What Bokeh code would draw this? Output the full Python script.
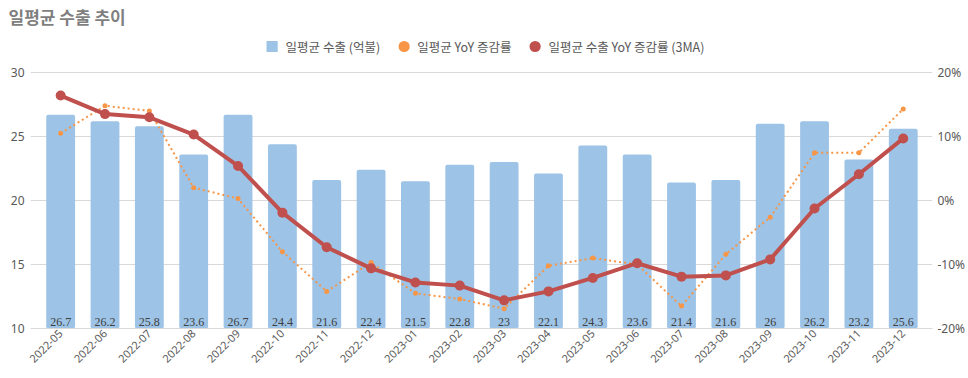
from math import pi
from bokeh.plotting import figure
from bokeh.models import (Range1d, LinearAxis, FixedTicker, Legend, LegendItem,
                          ColumnDataSource, Title)
from bokeh.embed import file_html
from bokeh.resources import INLINE

months = ["2022-05", "2022-06", "2022-07", "2022-08", "2022-09", "2022-10", "2022-11",
          "2022-12", "2023-01", "2023-02", "2023-03", "2023-04", "2023-05", "2023-06",
          "2023-07", "2023-08", "2023-09", "2023-10", "2023-11", "2023-12"]
export_avg = [26.7, 26.2, 25.8, 23.6, 26.7, 24.4, 21.6, 22.4, 21.5, 22.8,
              23.0, 22.1, 24.3, 23.6, 21.4, 21.6, 26.0, 26.2, 23.2, 25.6]
yoy = [10.5, 14.8, 14.0, 2.0, 0.3, -8.0, -14.2, -9.7, -14.5, -15.4,
       -16.9, -10.2, -9.0, -10.0, -16.5, -8.4, -2.6, 7.45, 7.45, 14.3]
yoy_3ma = [16.4, 13.5, 13.0, 10.3, 5.4, -1.9, -7.3, -10.6, -12.8, -13.3,
           -15.6, -14.2, -12.1, -9.8, -11.9, -11.7, -9.2, -1.25, 4.1, 9.7]
left_ticks = [10, 15, 20, 25, 30]
right_ticks = [-20, -10, 0, 10, 20]

FONT = "Noto Sans CJK KR"
NUMFONT = "Noto Sans"
GRAY = "#595959"
BLUE = "#9DC3E6"
ORANGE = "#F79646"
RED = "#C0504D"

# headroom above the top gridline (room for the legend inside the frame)
HEAD = 3.4375

xs = list(range(len(months)))
src = ColumnDataSource(dict(
    x=xs, v=export_avg, yoy=yoy, ma=yoy_3ma,
    lbl=[f"{v:g}" for v in export_avg],
))

p = figure(width=968, height=378, output_backend="svg", toolbar_location=None,
           x_range=Range1d(-0.68, 19.66),
           y_range=Range1d(10, 30 + HEAD),
           min_border_left=30, min_border_right=32, min_border_top=28, min_border_bottom=50)
p.extra_y_ranges = {"pct": Range1d(-20, 20 + 2 * HEAD)}
p.outline_line_color = None

bars = p.vbar(x="x", top="v", bottom=10, width=0.65, source=src,
              fill_color=BLUE, line_color=None, border_radius=2)
# legend-only square marker (hidden on the plot)
sq = p.scatter(x="x", y="v", source=src, marker="square", size=10,
               fill_color=BLUE, line_color=None, visible=False)
p.text(x="x", y=10, text="lbl", source=src, text_align="center",
       text_baseline="bottom", y_offset=-3, text_font=NUMFONT,
       text_font_size="12px", text_color="#404040")

p.line(x="x", y="yoy", source=src, y_range_name="pct", line_color=ORANGE,
       line_width=2, line_dash="2 3")
sc_o = p.scatter(x="x", y="yoy", source=src, y_range_name="pct", size=5,
                 fill_color=ORANGE, line_color=None)

p.line(x="x", y="ma", source=src, y_range_name="pct", line_color=RED, line_width=4)
sc_r = p.scatter(x="x", y="ma", source=src, y_range_name="pct", size=10,
                 fill_color=RED, line_color=None)

# axes
p.xaxis.ticker = FixedTicker(ticks=xs)
p.xaxis.major_label_overrides = {i: m for i, m in enumerate(months)}
p.xaxis.major_label_orientation = pi / 4
p.xaxis.axis_line_color = "#d9d9d9"
p.xaxis.major_tick_line_color = None
p.xaxis.minor_tick_line_color = None
p.xaxis.major_tick_out = 0
p.xaxis.major_tick_in = 0
p.xaxis.major_label_text_font = NUMFONT
p.xaxis.major_label_text_font_size = "11px"
p.xaxis.major_label_text_color = GRAY
p.xaxis.major_label_standoff = 3

p.yaxis.ticker = FixedTicker(ticks=left_ticks)
p.yaxis.axis_line_color = None
p.yaxis.major_tick_line_color = None
p.yaxis.minor_tick_line_color = None
p.yaxis.major_tick_out = 0
p.yaxis.major_tick_in = 0
p.yaxis.major_label_text_font = NUMFONT
p.yaxis.major_label_text_font_size = "12px"
p.yaxis.major_label_text_color = GRAY
p.yaxis.major_label_standoff = 6

ra = LinearAxis(y_range_name="pct", ticker=FixedTicker(ticks=right_ticks))
ra.major_label_overrides = {t: f"{t}%" for t in right_ticks}
ra.axis_line_color = None
ra.major_tick_line_color = None
ra.minor_tick_line_color = None
ra.major_tick_out = 0
ra.major_tick_in = 0
ra.major_label_text_font = NUMFONT
ra.major_label_text_font_size = "12px"
ra.major_label_text_color = GRAY
ra.major_label_standoff = 5
p.add_layout(ra, "right")

p.ygrid.ticker = FixedTicker(ticks=left_ticks)
p.ygrid.grid_line_color = "#d9d9d9"
p.xgrid.grid_line_color = None

legend = Legend(items=[
    LegendItem(label="일평균 수출 (억불)", renderers=[sq]),
    LegendItem(label="일평균 YoY 증감률", renderers=[sc_o]),
    LegendItem(label="일평균 수출 YoY 증감률 (3MA)", renderers=[sc_r]),
], orientation="horizontal", location="top_center")
legend.label_text_font = FONT
legend.label_text_font_size = "12.5px"
legend.label_text_color = GRAY
legend.glyph_width = 28
legend.glyph_height = 28
legend.label_height = 28
legend.label_standoff = 0
legend.spacing = 9
legend.border_line_color = None
legend.background_fill_alpha = 0
legend.inactive_fill_alpha = 0
legend.padding = 0
legend.margin = 4
p.add_layout(legend, "center")

p.title = Title(text="일평균 수출 추이", align="left", text_font=FONT,
                text_font_size="17px", text_font_style="bold", text_color="#7f7f7f",
                offset=-22, standoff=0)

open("out.html", "w").write(file_html(p, INLINE))
